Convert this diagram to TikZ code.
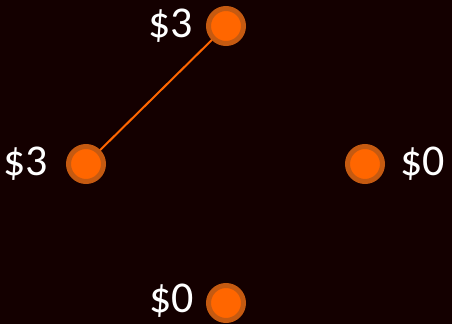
\documentclass[tikz,border=0pt]{standalone}
\usepackage{fontspec}
\setmainfont{Carlito}
\usetikzlibrary{positioning}
\definecolor{bgdark}{RGB}{20,0,0}
\definecolor{dotfill}{RGB}{255,102,0}
\definecolor{dotring}{RGB}{197,90,17}
\tikzset{
  dot/.style={circle, draw=dotring, fill=dotfill, line width=5pt,
    minimum size=35pt, inner sep=0pt},
  amount/.style={text=white, inner sep=0pt, font=\fontsize{44}{50}\selectfont},
  link/.style={draw=dotfill, line width=2pt}
}
\begin{document}
\begin{tikzpicture}[x=1pt, y=-1pt]
    % Canvas: 452 x 324, y runs downwards
    \fill[bgdark] (0,0) rectangle (452,324);
    \useasboundingbox (0,0) rectangle (452,324);

    % Four dots, diamond layout
    \coordinate (ct) at (226,26);
    \coordinate (cl) at (86,164);
    \coordinate (cr) at (365,164);
    \coordinate (cb) at (226,303);

    % Connector sits behind the dots
    \draw[link] (ct) -- (cl);

    \node[dot] (top)    at (ct) {};
    \node[dot] (left)   at (cl) {};
    \node[dot] (right)  at (cr) {};
    \node[dot] (bottom) at (cb) {};

    % Amounts beside each dot
    \node[amount, left=13pt of top]    (topamt)    {\$3};
    \node[amount, left=18pt of left]   (leftamt)   {\$3};
    \node[amount, right=15pt of right] (rightamt)  {\$0};
    \node[amount, left=12pt of bottom, yshift=2pt] (bottomamt) {\$0};
\end{tikzpicture}
\end{document}
